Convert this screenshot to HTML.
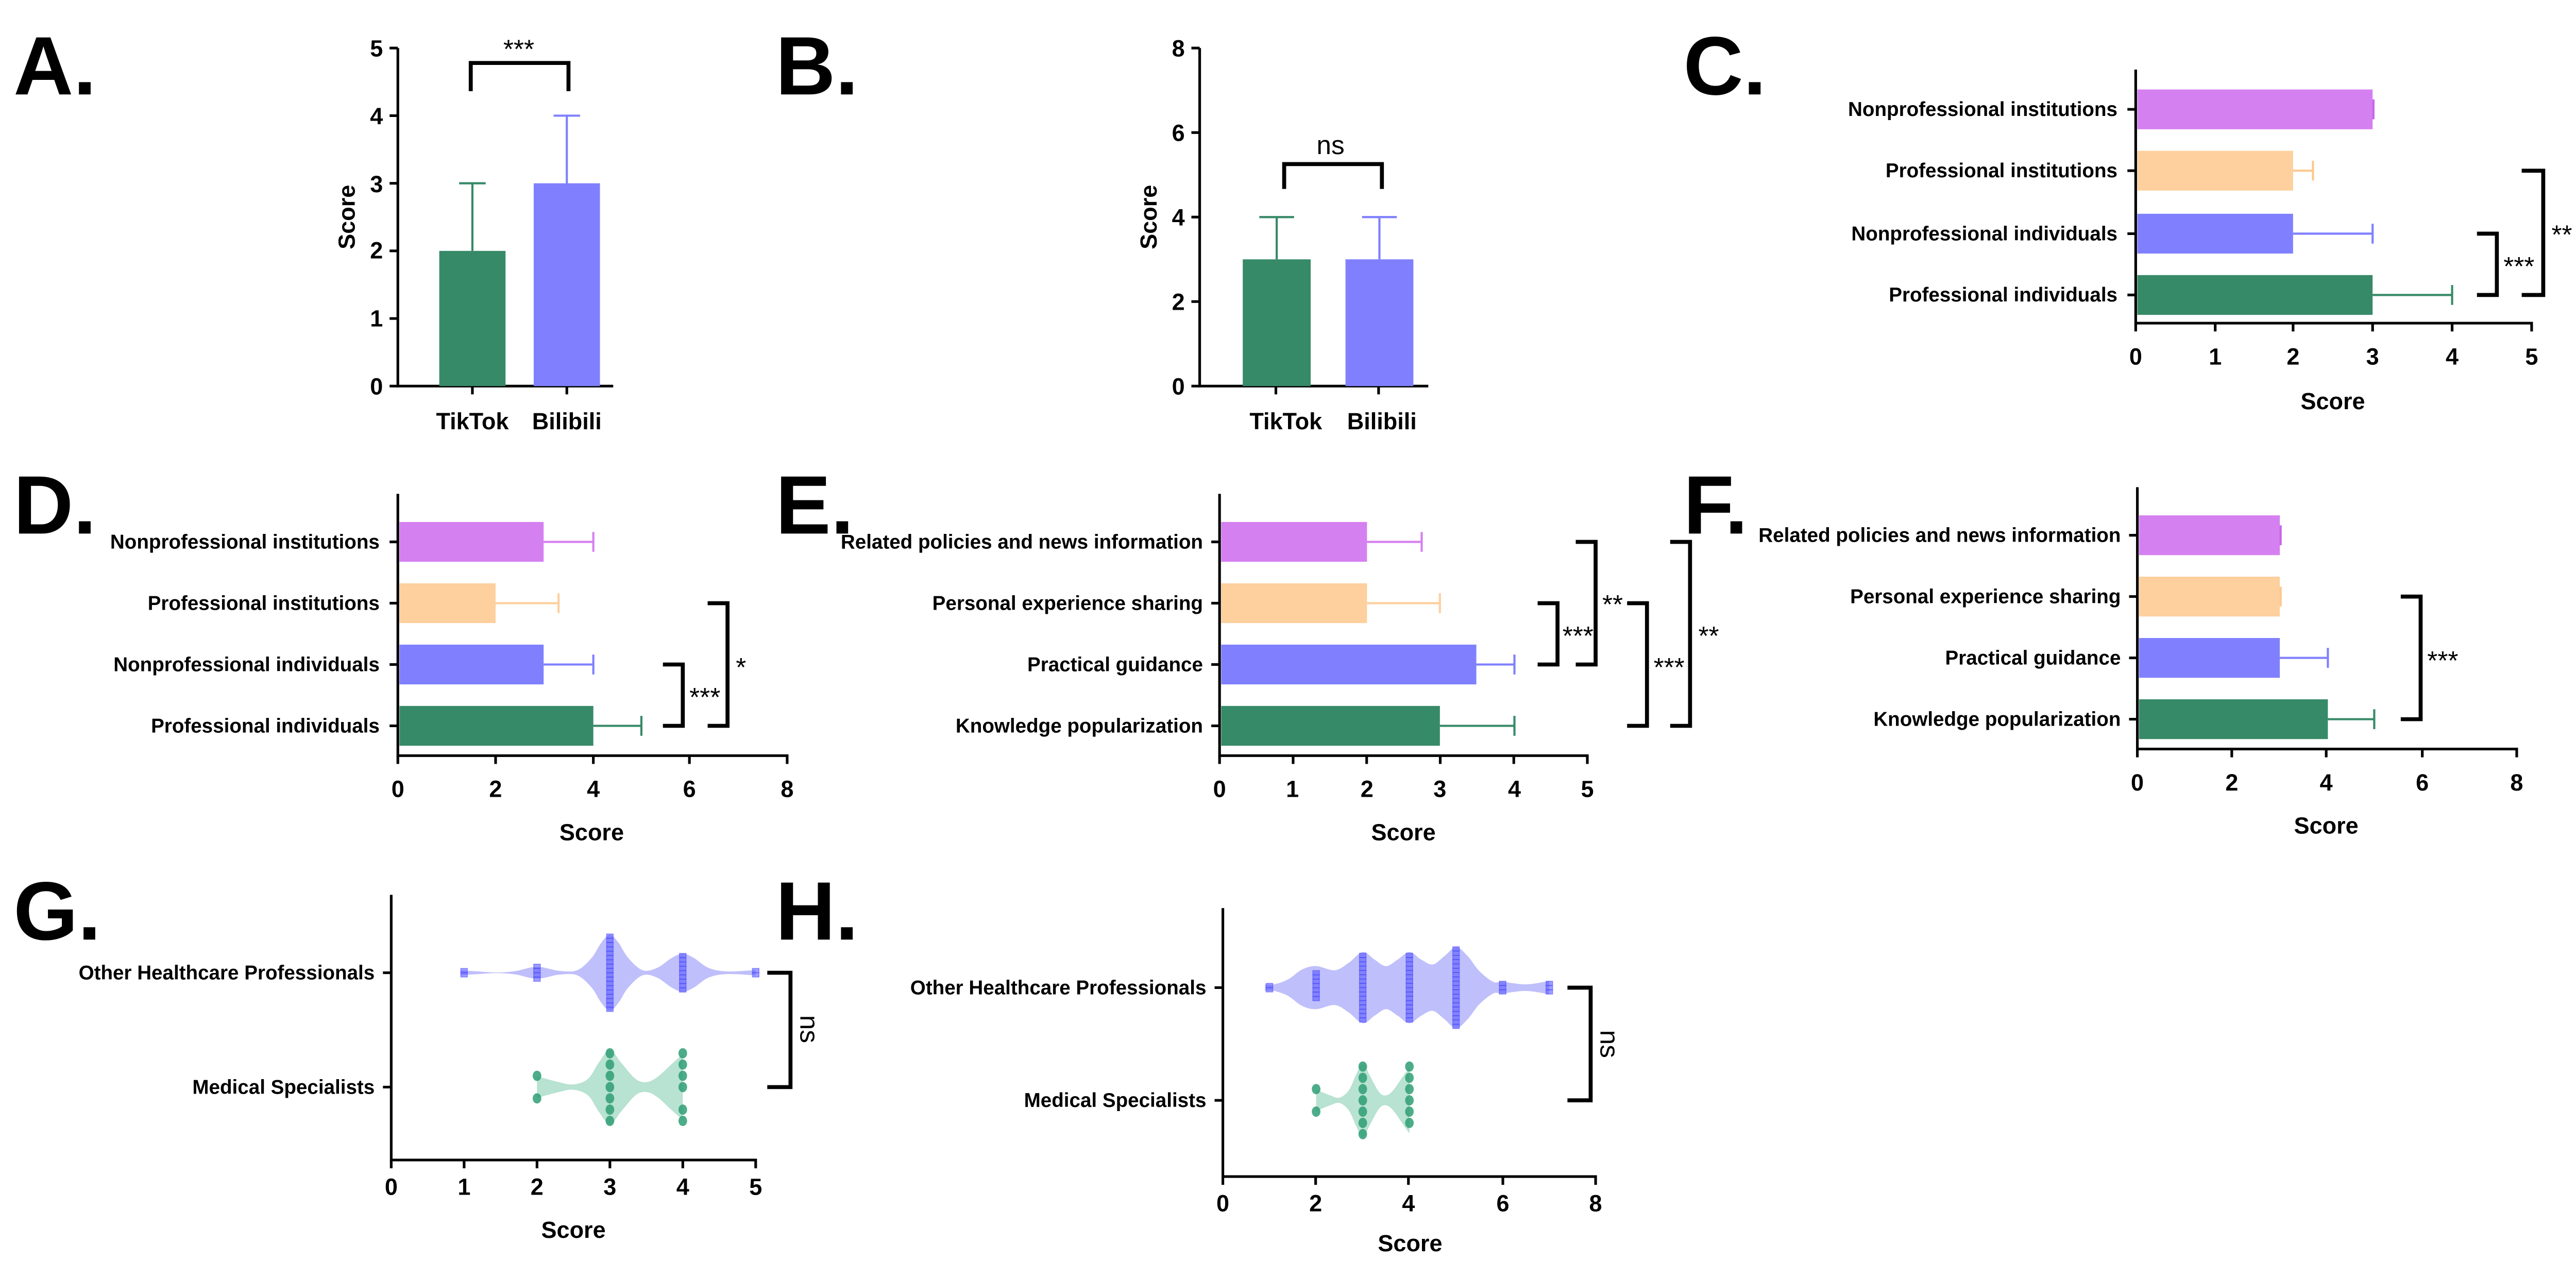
<!DOCTYPE html>
<html><head><meta charset="utf-8">
<style>
html,body{margin:0;padding:0;background:#fff;}
svg{display:block;}
text{font-family:"Liberation Sans",Arial,sans-serif;font-weight:bold;fill:#000;}
.L{font-size:50px;}
.t{font-size:14px;}
.c{font-size:12px;}
.s{font-size:14px;}
.st{font-size:16px;font-weight:normal;}
.ax{stroke:#000;stroke-width:1.6;fill:none;}
.br{stroke:#000;stroke-width:2.4;fill:none;}
</style></head>
<body>
<svg width="5043" height="2476" viewBox="0 0 1568 770" xmlns="http://www.w3.org/2000/svg">
<rect width="1568" height="770" fill="#fff"/>

<!-- ============ A ============ -->
<text class="L" x="8" y="57">A.</text>
<g>
<path class="ax" d="M240 29 V233 H370"/>
<path class="ax" d="M235 233H240 M235 192.2H240 M235 151.4H240 M235 110.6H240 M235 69.8H240 M235 29H240 M285 233V238 M342 233V238"/>
<text class="t" text-anchor="end" x="231" y="238">0</text>
<text class="t" text-anchor="end" x="231" y="197">1</text>
<text class="t" text-anchor="end" x="231" y="156">2</text>
<text class="t" text-anchor="end" x="231" y="116">3</text>
<text class="t" text-anchor="end" x="231" y="75">4</text>
<text class="t" text-anchor="end" x="231" y="34">5</text>
<text class="s" text-anchor="middle" transform="translate(214,131) rotate(-90)">Score</text>
<rect x="265" y="151.4" width="40" height="81.6" fill="#378a68"/>
<path d="M285 151.4V110.6 M277 110.6H293" stroke="#378a68" stroke-width="1.3"/>
<rect x="322" y="110.6" width="40" height="122.4" fill="#8080ff"/>
<path d="M342 110.6V69.8 M334 69.8H350" stroke="#8080ff" stroke-width="1.3"/>
<text class="s" text-anchor="middle" x="285" y="259">TikTok</text>
<text class="s" text-anchor="middle" x="342" y="259">Bilibili</text>
<path class="br" d="M284 55V38H343V55"/>
<text class="st" text-anchor="middle" x="313" y="35">***</text>
</g>

<!-- ============ B ============ -->
<text class="L" x="468" y="57">B.</text>
<g>
<path class="ax" d="M724 29V233H862"/>
<path class="ax" d="M719 233H724 M719 182H724 M719 131H724 M719 80H724 M719 29H724 M770 233V238 M832 233V238"/>
<text class="t" text-anchor="end" x="715" y="238">0</text>
<text class="t" text-anchor="end" x="715" y="187">2</text>
<text class="t" text-anchor="end" x="715" y="136">4</text>
<text class="t" text-anchor="end" x="715" y="85">6</text>
<text class="t" text-anchor="end" x="715" y="34">8</text>
<text class="s" text-anchor="middle" transform="translate(698,131) rotate(-90)">Score</text>
<rect x="750" y="156.5" width="41" height="76.5" fill="#378a68"/>
<path d="M770.5 156.5V131 M760 131H781" stroke="#378a68" stroke-width="1.3"/>
<rect x="812" y="156.5" width="41" height="76.5" fill="#8080ff"/>
<path d="M832.5 156.5V131 M822 131H843" stroke="#8080ff" stroke-width="1.3"/>
<text class="s" text-anchor="middle" x="776" y="259">TikTok</text>
<text class="s" text-anchor="middle" x="834" y="259">Bilibili</text>
<path class="br" d="M775 114V99H834V114"/>
<text class="st" text-anchor="middle" x="803" y="93">ns</text>
</g>

<!-- ============ C ============ -->
<text class="L" x="1016" y="57">C.</text>
<g>
<path class="ax" d="M1289 42V195H1528V200"/>
<path class="ax" d="M1284 66H1289 M1284 103H1289 M1284 141H1289 M1284 178H1289 M1289 195V200 M1337 195V200 M1384 195V200 M1432 195V200 M1480 195V200"/>
<text class="t" text-anchor="middle" x="1289" y="220">0</text>
<text class="t" text-anchor="middle" x="1337" y="220">1</text>
<text class="t" text-anchor="middle" x="1384" y="220">2</text>
<text class="t" text-anchor="middle" x="1432" y="220">3</text>
<text class="t" text-anchor="middle" x="1480" y="220">4</text>
<text class="t" text-anchor="middle" x="1528" y="220">5</text>
<text class="s" text-anchor="middle" x="1408" y="247">Score</text>
<text class="c" text-anchor="end" x="1278" y="70">Nonprofessional institutions</text>
<text class="c" text-anchor="end" x="1278" y="107">Professional institutions</text>
<text class="c" text-anchor="end" x="1278" y="145">Nonprofessional individuals</text>
<text class="c" text-anchor="end" x="1278" y="182">Professional individuals</text>
<rect x="1290" y="54" width="142" height="24" fill="#d580f0"/>
<path d="M1432.5 60V72" stroke="#c766e8" stroke-width="1.3"/>
<rect x="1290" y="91" width="94" height="24" fill="#fdd09e"/>
<path d="M1384 103H1396 M1396 97V109" stroke="#fdc88e" stroke-width="1.3"/>
<rect x="1290" y="129" width="94" height="24" fill="#8080ff"/>
<path d="M1384 141H1432 M1432 135V147" stroke="#8080ff" stroke-width="1.3"/>
<rect x="1290" y="166" width="142" height="24" fill="#378a68"/>
<path d="M1432 178H1480 M1480 172V184" stroke="#378a68" stroke-width="1.3"/>
<path class="br" d="M1495 141H1507V178H1495"/>
<text class="st" text-anchor="start" x="1511" y="166">***</text>
<path class="br" d="M1522 103H1535V178H1522"/>
<text class="st" text-anchor="start" x="1540" y="147">**</text>
</g>

<!-- ============ D ============ -->
<text class="L" x="8" y="322">D.</text>
<g>
<path class="ax" d="M240 298V456H475V461"/>
<path class="ax" d="M235 327H240 M235 364H240 M235 401H240 M235 438H240 M240 456V461 M299 456V461 M358 456V461 M416 456V461"/>
<text class="t" text-anchor="middle" x="240" y="481">0</text>
<text class="t" text-anchor="middle" x="299" y="481">2</text>
<text class="t" text-anchor="middle" x="358" y="481">4</text>
<text class="t" text-anchor="middle" x="416" y="481">6</text>
<text class="t" text-anchor="middle" x="475" y="481">8</text>
<text class="s" text-anchor="middle" x="357" y="507">Score</text>
<text class="c" text-anchor="end" x="229" y="331">Nonprofessional institutions</text>
<text class="c" text-anchor="end" x="229" y="368">Professional institutions</text>
<text class="c" text-anchor="end" x="229" y="405">Nonprofessional individuals</text>
<text class="c" text-anchor="end" x="229" y="442">Professional individuals</text>
<rect x="241" y="315" width="87" height="24" fill="#d580f0"/>
<path d="M328 327H358 M358 321V333" stroke="#d580f0" stroke-width="1.3"/>
<rect x="241" y="352" width="58" height="24" fill="#fdd09e"/>
<path d="M299 364H337 M337 358V370" stroke="#fdd09e" stroke-width="1.3"/>
<rect x="241" y="389" width="87" height="24" fill="#8080ff"/>
<path d="M328 401H358 M358 395V407" stroke="#8080ff" stroke-width="1.3"/>
<rect x="241" y="426" width="117" height="24" fill="#378a68"/>
<path d="M358 438H387 M387 432V444" stroke="#378a68" stroke-width="1.3"/>
<path class="br" d="M400 401H412V438H400"/>
<text class="st" x="416" y="426">***</text>
<path class="br" d="M427 364H439V438H427"/>
<text class="st" x="444" y="408">*</text>
</g>

<!-- ============ E ============ -->
<text class="L" x="468" y="322">E.</text>
<g>
<path class="ax" d="M736 298V456H958V461"/>
<path class="ax" d="M731 327H736 M731 364H736 M731 401H736 M731 438H736 M736 456V461 M780.4 456V461 M824.8 456V461 M869.2 456V461 M913.6 456V461"/>
<text class="t" text-anchor="middle" x="736" y="481">0</text>
<text class="t" text-anchor="middle" x="780" y="481">1</text>
<text class="t" text-anchor="middle" x="825" y="481">2</text>
<text class="t" text-anchor="middle" x="869" y="481">3</text>
<text class="t" text-anchor="middle" x="914" y="481">4</text>
<text class="t" text-anchor="middle" x="958" y="481">5</text>
<text class="s" text-anchor="middle" x="847" y="507">Score</text>
<text class="c" text-anchor="end" x="726" y="331">Related policies and news information</text>
<text class="c" text-anchor="end" x="726" y="368">Personal experience sharing</text>
<text class="c" text-anchor="end" x="726" y="405">Practical guidance</text>
<text class="c" text-anchor="end" x="726" y="442">Knowledge popularization</text>
<rect x="737" y="315" width="88" height="24" fill="#d580f0"/>
<path d="M825 327H858 M858 321V333" stroke="#d580f0" stroke-width="1.3"/>
<rect x="737" y="352" width="88" height="24" fill="#fdd09e"/>
<path d="M825 364H869 M869 358V370" stroke="#fdd09e" stroke-width="1.3"/>
<rect x="737" y="389" width="154" height="24" fill="#8080ff"/>
<path d="M891 401H914 M914 395V407" stroke="#8080ff" stroke-width="1.3"/>
<rect x="737" y="426" width="132" height="24" fill="#378a68"/>
<path d="M869 438H914 M914 432V444" stroke="#378a68" stroke-width="1.3"/>
<path class="br" d="M928 364H940V401H928"/>
<text class="st" x="943" y="389">***</text>
<path class="br" d="M951 327H963V401H951"/>
<text class="st" x="967" y="370">**</text>
<path class="br" d="M982 364H994V438H982"/>
<text class="st" x="998" y="408">***</text>
<path class="br" d="M1008 327H1020V438H1008"/>
<text class="st" x="1025" y="389">**</text>
</g>

<!-- ============ F ============ -->
<text class="L" x="1016" y="322">F.</text>
<g>
<path class="ax" d="M1290 294V452H1519V457"/>
<path class="ax" d="M1285 323H1290 M1285 360H1290 M1285 397H1290 M1285 434H1290 M1290 452V457 M1347 452V457 M1404 452V457 M1462 452V457"/>
<text class="t" text-anchor="middle" x="1290" y="477">0</text>
<text class="t" text-anchor="middle" x="1347" y="477">2</text>
<text class="t" text-anchor="middle" x="1404" y="477">4</text>
<text class="t" text-anchor="middle" x="1462" y="477">6</text>
<text class="t" text-anchor="middle" x="1519" y="477">8</text>
<text class="s" text-anchor="middle" x="1404" y="503">Score</text>
<text class="c" text-anchor="end" x="1280" y="327">Related policies and news information</text>
<text class="c" text-anchor="end" x="1280" y="364">Personal experience sharing</text>
<text class="c" text-anchor="end" x="1280" y="401">Practical guidance</text>
<text class="c" text-anchor="end" x="1280" y="438">Knowledge popularization</text>
<rect x="1291" y="311" width="85" height="24" fill="#d580f0"/>
<path d="M1376.5 317V329" stroke="#c766e8" stroke-width="1.3"/>
<rect x="1291" y="348" width="85" height="24" fill="#fdd09e"/>
<path d="M1376.5 354V366" stroke="#fdc88e" stroke-width="1.3"/>
<rect x="1291" y="385" width="85" height="24" fill="#8080ff"/>
<path d="M1376 397H1405 M1405 391V403" stroke="#8080ff" stroke-width="1.3"/>
<rect x="1291" y="422" width="114" height="24" fill="#378a68"/>
<path d="M1405 434H1433 M1433 428V440" stroke="#378a68" stroke-width="1.3"/>
<path class="br" d="M1449 360H1461V434H1449"/>
<text class="st" x="1465" y="404">***</text>
</g>

<!-- ============ G ============ -->
<text class="L" x="8" y="567">G.</text>
<g>
<path class="ax" d="M236 540V700H456V705"/>
<path class="ax" d="M231 587H236 M231 656H236 M236 700V705 M280 700V705 M324 700V705 M368 700V705 M412 700V705"/>
<text class="t" text-anchor="middle" x="236" y="721">0</text>
<text class="t" text-anchor="middle" x="280" y="721">1</text>
<text class="t" text-anchor="middle" x="324" y="721">2</text>
<text class="t" text-anchor="middle" x="368" y="721">3</text>
<text class="t" text-anchor="middle" x="412" y="721">4</text>
<text class="t" text-anchor="middle" x="456" y="721">5</text>
<text class="s" text-anchor="middle" x="346" y="747">Score</text>
<text class="c" text-anchor="end" x="226" y="591">Other Healthcare Professionals</text>
<text class="c" text-anchor="end" x="226" y="660">Medical Specialists</text>
<g id="gv"></g>
<path class="br" d="M463 587H477V656H463"/>
<text class="st" text-anchor="middle" transform="translate(483,621) rotate(90)">ns</text>
</g>

<!-- ============ H ============ -->
<text class="L" x="468" y="567">H.</text>
<g>
<path class="ax" d="M738 548V710H963V715"/>
<path class="ax" d="M733 596H738 M733 664H738 M738 710V715 M794 710V715 M850 710V715 M907 710V715"/>
<text class="t" text-anchor="middle" x="738" y="731">0</text>
<text class="t" text-anchor="middle" x="794" y="731">2</text>
<text class="t" text-anchor="middle" x="850" y="731">4</text>
<text class="t" text-anchor="middle" x="907" y="731">6</text>
<text class="t" text-anchor="middle" x="963" y="731">8</text>
<text class="s" text-anchor="middle" x="851" y="755">Score</text>
<text class="c" text-anchor="end" x="728" y="600">Other Healthcare Professionals</text>
<text class="c" text-anchor="end" x="728" y="668">Medical Specialists</text>
<g id="hv"></g>
<path class="br" d="M946 596H960V664H946"/>
<text class="st" text-anchor="middle" transform="translate(966,630) rotate(90)">ns</text>
</g>
</svg>
<script>
(function(){
var NS="http://www.w3.org/2000/svg";
function el(p,tag,a){var e=document.createElementNS(NS,tag);for(var k in a)e.setAttribute(k,a[k]);p.appendChild(e);return e;}
function smooth(pts){
 var d="M"+pts[0][0]+" "+pts[0][1];
 for(var i=0;i<pts.length-1;i++){
  var p0=pts[i-1]||pts[i],p1=pts[i],p2=pts[i+1],p3=pts[i+2]||p2;
  var c1x=p1[0]+(p2[0]-p0[0])/6,c1y=p1[1]+(p2[1]-p0[1])/6;
  var c2x=p2[0]-(p3[0]-p1[0])/6,c2y=p2[1]-(p3[1]-p1[1])/6;
  d+=" C"+c1x.toFixed(2)+" "+c1y.toFixed(2)+" "+c2x.toFixed(2)+" "+c2y.toFixed(2)+" "+p2[0].toFixed(2)+" "+p2[1].toFixed(2);
 }
 return d;
}
function violin(g,x0,sc,cy,prof,fill){
 var top=prof.map(function(p){return [x0+p[0]*sc,cy-p[1]];});
 var bot=prof.slice().reverse().map(function(p){return [x0+p[0]*sc,cy+p[1]];});
 var d=smooth(top)+" L"+smooth(bot).slice(1)+" Z";
 el(g,"path",{d:d,fill:fill});
}
function sq(g,x,cy,h){
 for(var y=-h;y<=h+0.01;y+=2.6){el(g,"rect",{x:x-2,y:cy+y-1.3,width:4,height:2.6,fill:"#5050ff","fill-opacity":0.55,stroke:"#4040ff","stroke-opacity":0.5,"stroke-width":0.5});}
}
function dots(g,x,cy,offs){offs.forEach(function(o){el(g,"ellipse",{cx:x,cy:cy+o,rx:2.6,ry:3.1,fill:"#2e9e74","fill-opacity":0.85});});}
var G=document.getElementById("gv");
var gp=[[0.95,1.5],[1.2,0.8],[1.45,0.2],[1.7,1],[2,3.6],[2.3,1.2],[2.55,1.5],[2.75,9],[2.88,18],[3,23],[3.12,18],[3.25,9],[3.45,1.5],[3.65,3],[3.85,9],[4,11.5],[4.15,9],[4.35,3],[4.6,0.8],[5,1.6]];
violin(G,236,44,587,gp,"#bfbffb");
sq(G,280,587,1.3);sq(G,324,587,3.9);sq(G,368,587,22.1);sq(G,412,587,10.4);sq(G,456,587,1.3);
var gg=[[2,6.5],[2.3,3],[2.5,1.6],[2.7,5],[2.85,15],[3,22.5],[3.15,15],[3.35,5],[3.5,3],[3.65,6],[3.85,14],[4,20]];
violin(G,236,44,656,gg,"#b8e2d2");
dots(G,324,656,[-6.8,6.8]);
dots(G,368,656,[-20.4,-13.6,-6.8,0,6.8,13.6,20.4]);
dots(G,412,656,[-20.4,-13.6,-6.8,0,13.6,20.4]);
var H=document.getElementById("hv");
var hx=738,hs=28.15;
var hp=[[0.9,2],[1.1,2],[1.4,5],[1.7,11],[2,13],[2.4,10.5],[2.7,15],[3,21.5],[3.25,17],[3.5,13],[3.75,17],[4,21.5],[4.25,17],[4.5,14],[4.75,19],[5,24.5],[5.25,19],[5.5,10],[5.8,3.5],[6,3.5],[6.5,2],[7,4]];
violin(H,hx,hs,596,hp,"#bfbffb");
sq(H,hx+1*hs,596,1.3);sq(H,hx+2*hs,596,9);
sq(H,hx+3*hs,596,19.5);sq(H,hx+4*hs,596,19.5);sq(H,hx+5*hs,596,23.4);sq(H,hx+6*hs,596,2.6);sq(H,hx+7*hs,596,2.6);
var hg=[[2,6.5],[2.3,3],[2.5,1.6],[2.7,6],[2.85,15],[3,22.5],[3.15,15],[3.35,5],[3.5,3],[3.65,6],[3.85,14],[4,20]];
violin(H,hx,hs,664,hg,"#b8e2d2");
dots(H,hx+2*hs,664,[-6.8,6.8]);
dots(H,hx+3*hs,664,[-20.4,-13.6,-6.8,0,6.8,13.6,20.4]);
dots(H,hx+4*hs,664,[-20.4,-13.6,-6.8,0,6.8,13.6]);
})();
</script>
</body></html>
